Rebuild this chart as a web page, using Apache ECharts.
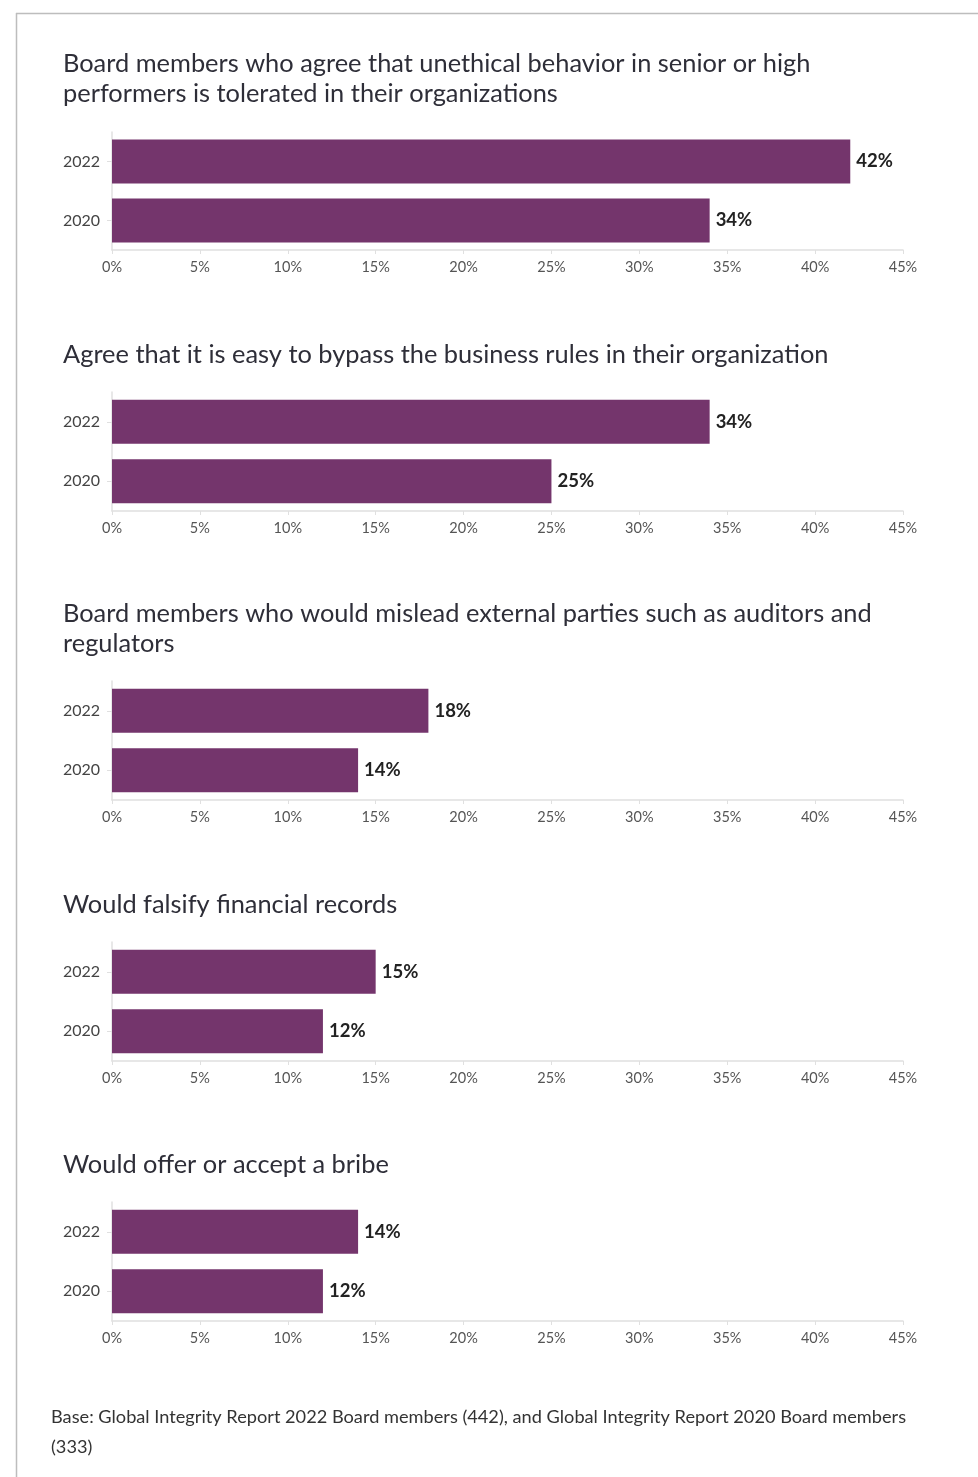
<!DOCTYPE html>
<html>
<head>
<meta charset="utf-8">
<script src="https://cdn.jsdelivr.net/npm/echarts@6/dist/echarts.min.js"></script>
<style>
html,body{margin:0;padding:0;background:#fff;}
#c{width:978px;height:1477px;}
</style>
</head>
<body>
<div id="c"></div>
<script>
const categories = ['2022', '2020'];
const titles = [
  'Board members who agree that unethical behavior in senior or high\nperformers is tolerated in their organizations',
  'Agree that it is easy to bypass the business rules in their organization',
  'Board members who would mislead external parties such as auditors and\nregulators',
  'Would falsify financial records',
  'Would offer or accept a bribe'
];
const toleratedValues = [42, 34];
const bypassValues = [34, 25];
const misleadValues = [18, 14];
const falsifyValues = [15, 12];
const bribeValues = [14, 12];
const seriesValues = [toleratedValues, bypassValues, misleadValues, falsifyValues, bribeValues];
const xTicks = [0, 5, 10, 15, 20, 25, 30, 35, 40, 45];
const footnote = 'Base: Global Integrity Report 2022 Board members (442), and Global Integrity Report 2020 Board members\n(333)';

const FONT = 'Lato';
const gridTops = [132, 392, 681, 942, 1202];
const gridHeights = [118, 119, 119, 119, 119];
const titleTops = [49, 340, 599, 890, 1150];

const option = {
  animation: false,
  backgroundColor: '#fff',
  textStyle: { fontFamily: FONT },
  title: titles.map((t, i) => ({
    text: t, left: 63, top: titleTops[i], padding: 0,
    textStyle: { fontFamily: FONT, fontSize: 25.4, fontWeight: 'normal', color: '#2e2e38', lineHeight: 30 }
  })).concat([{
    text: footnote, left: 51, top: 1402, padding: 0,
    textStyle: { fontFamily: FONT, fontSize: 18.2, fontWeight: 'normal', color: '#333', lineHeight: 30 }
  }]),
  graphic: [
    { type: 'line', shape: { x1: 16, y1: 13.5, x2: 978, y2: 13.5 }, style: { stroke: '#bdbdbd', lineWidth: 1.5 } },
    { type: 'line', shape: { x1: 16.5, y1: 13, x2: 16.5, y2: 1477 }, style: { stroke: '#bdbdbd', lineWidth: 1.5 } }
  ],
  grid: gridTops.map((t, i) => ({ left: 112, width: 791, top: t, height: gridHeights[i] })),
  xAxis: seriesValues.map((v, i) => ({
    type: 'value', gridIndex: i, min: xTicks[0], max: xTicks[xTicks.length - 1], interval: 5,
    axisLine: { show: true, lineStyle: { color: '#e0e0e0', width: 1.5 } },
    axisTick: { show: true, length: 4, lineStyle: { color: '#e0e0e0' } },
    splitLine: { show: false },
    axisLabel: { formatter: '{value}%', fontSize: 14.5, color: '#555', margin: 10, fontFamily: FONT }
  })),
  yAxis: seriesValues.map((v, i) => ({
    type: 'category', gridIndex: i, data: categories, inverse: true,
    axisLine: { show: true, lineStyle: { color: '#e0e0e0', width: 1.5 } },
    axisTick: { show: true, length: 5, alignWithLabel: true, lineStyle: { color: '#e0e0e0' } },
    axisLabel: { fontSize: 16, color: '#444', margin: 12, fontFamily: FONT }
  })),
  series: seriesValues.map((v, i) => ({
    type: 'bar', xAxisIndex: i, yAxisIndex: i, data: v, barWidth: 44,
    itemStyle: { color: '#74356c' },
    label: { show: true, position: 'right', distance: 6, formatter: '{c}%', fontSize: 18.5, fontWeight: 'bold', color: '#222', fontFamily: FONT }
  }))
};
const chart = echarts.init(document.getElementById('c'));
chart.setOption(option);
</script>
</body>
</html>
